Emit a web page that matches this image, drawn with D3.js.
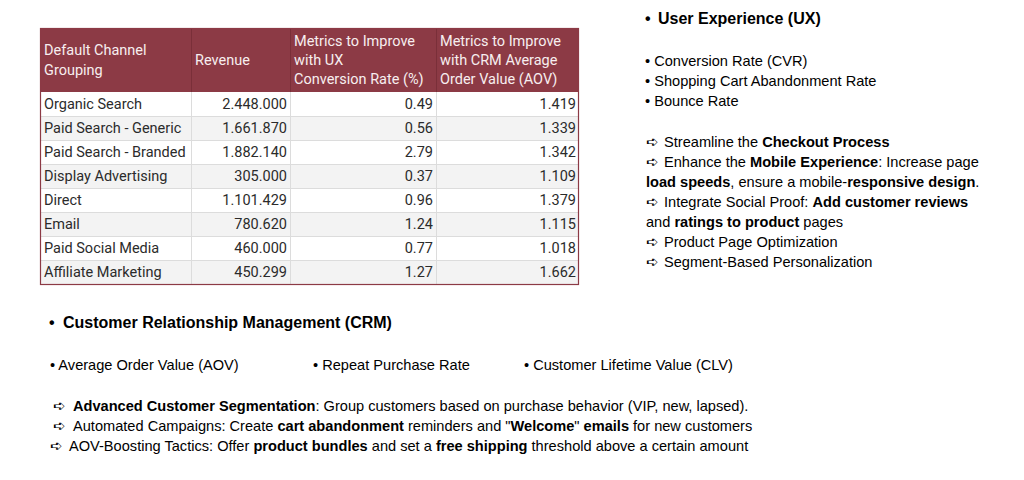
<!DOCTYPE html>
<html><head><meta charset="utf-8">
<script src="https://cdn.jsdelivr.net/npm/d3@7/dist/d3.min.js"></script>
<style>
html,body{margin:0;padding:0;background:#fff;}
svg{display:block;}
</style></head>
<body>
<svg id="c" width="1024" height="480"></svg>
<script>
// ---- data ----
const headers = [
  ["Default Channel", "Grouping"],
  ["Revenue"],
  ["Metrics to Improve", "with UX", "Conversion Rate (%)"],
  ["Metrics to Improve", "with CRM Average", "Order Value (AOV)"]
];
const channels = ["Organic Search","Paid Search - Generic","Paid Search - Branded","Display Advertising","Direct","Email","Paid Social Media","Affiliate Marketing"];
const revenue = [2448000, 1661870, 1882140, 305000, 1101429, 780620, 460000, 450299];
const cvr = [0.49, 0.56, 2.79, 0.37, 0.96, 1.24, 0.77, 1.27];
const aov = [1.419, 1.339, 1.342, 1.109, 1.379, 1.115, 1.018, 1.662];

const uxTitle = "User Experience (UX)";
const uxMetrics = ["Conversion Rate (CVR)", "Shopping Cart Abandonment Rate", "Bounce Rate"];
// segments: [text, bold]; arrow flag marks a new bullet line
const uxActions = [
  {arrow:true, segs:[["Streamline the ",0],["Checkout Process",1]]},
  {arrow:true, segs:[["Enhance the ",0],["Mobile Experience",1],[": Increase page",0]]},
  {arrow:false, segs:[["load speeds",1],[", ensure a mobile-",0],["responsive design",1],[".",0]]},
  {arrow:true, segs:[["Integrate Social Proof: ",0],["Add customer reviews",1]]},
  {arrow:false, segs:[["and ",0],["ratings to product",1],[" pages",0]]},
  {arrow:true, segs:[["Product Page Optimization",0]]},
  {arrow:true, segs:[["Segment-Based Personalization",0]]}
];
const crmTitle = "Customer Relationship Management (CRM)";
const crmMetrics = ["Average Order Value (AOV)", "Repeat Purchase Rate", "Customer Lifetime Value (CLV)"];
const crmActions = [
  [["Advanced Customer Segmentation",1],[": Group customers based on purchase behavior (VIP, new, lapsed).",0]],
  [["Automated Campaigns: Create ",0],["cart abandonment",1],[" reminders and \"",0],["Welcome",1],["\" ",0],["emails",1],[" for new customers",0]],
  [["AOV-Boosting Tactics: Offer ",0],["product bundles",1],[" and set a ",0],["free shipping",1],[" threshold above a certain amount",0]]
];

// ---- layout ----
const svg = d3.select("#c");
const ARROW = "\u27AA";
const tableFont = "Roboto, 'Noto Sans', sans-serif";
const textFont = "'Liberation Sans', Arial, sans-serif";
const TS = 14.5, BS = 14.6, HS = 16;

const colEdges = [40, 191, 290, 436, 579];
const tTop = 28, hdrBottom = 92, tBottom = 284;

const y = d3.scaleBand().domain(d3.range(channels.length)).range([hdrBottom, tBottom]);

const loc = d3.formatLocale({decimal:",", thousands:".", grouping:[3], currency:["",""]});
const fmtRev = loc.format(",d");
const fmt2 = d3.format(".2f");
const fmt3 = d3.format(".3f");

const tbl = svg.append("g");
tbl.append("rect").attr("x", colEdges[0]).attr("y", tTop)
  .attr("width", colEdges[4]-colEdges[0]).attr("height", hdrBottom-tTop)
  .attr("fill", "#8c3a45");
tbl.selectAll("rect.row").data(channels).join("rect").attr("class","row")
  .attr("x", colEdges[0]).attr("y", (d,i)=>y(i))
  .attr("width", colEdges[4]-colEdges[0]).attr("height", y.bandwidth())
  .attr("fill", (d,i)=> i%2 ? "#f3f3f3" : "#ffffff");
tbl.selectAll("line.h").data(d3.range(1, channels.length)).join("line").attr("class","h")
  .attr("x1", colEdges[0]).attr("x2", colEdges[4])
  .attr("y1", i=>y(i)+0.5).attr("y2", i=>y(i)+0.5)
  .attr("stroke", "#dcdcdc");
tbl.selectAll("line.v").data(colEdges.slice(1,4)).join("line").attr("class","v")
  .attr("x1", d=>d+0.5).attr("x2", d=>d+0.5).attr("y1", hdrBottom).attr("y2", tBottom)
  .attr("stroke", "#dcdcdc");
tbl.selectAll("line.vh").data(colEdges.slice(1,4)).join("line").attr("class","vh")
  .attr("x1", d=>d+0.5).attr("x2", d=>d+0.5).attr("y1", tTop).attr("y2", hdrBottom)
  .attr("stroke", "#7a2f39");
tbl.append("rect").attr("x", colEdges[0]+0.5).attr("y", tTop+0.5)
  .attr("width", colEdges[4]-colEdges[0]-1).attr("height", tBottom-tTop)
  .attr("fill", "none").attr("stroke", "#8c3a45").attr("stroke-width", 1.2);

const hdrMid = (tTop+hdrBottom)/2;
headers.forEach((lines, ci) => {
  const lh = lines.length === 3 ? 19 : 20;
  const t = tbl.append("text").attr("font-family", tableFont).attr("font-size", TS)
    .attr("fill", "#f7eeef");
  lines.forEach((ln, k) => {
    t.append("tspan").attr("x", colEdges[ci]+4)
      .attr("y", hdrMid + (k - (lines.length-1)/2)*lh + 5).text(ln);
  });
});

const cols = [
  {vals: channels, f: d=>d, anchor:"start"},
  {vals: revenue, f: fmtRev, anchor:"end"},
  {vals: cvr, f: fmt2, anchor:"end"},
  {vals: aov, f: fmt3, anchor:"end"}
];
cols.forEach((c, ci) => {
  tbl.selectAll("text.c"+ci).data(c.vals).join("text").attr("class","c"+ci)
    .attr("x", c.anchor==="start" ? colEdges[ci]+4 : colEdges[ci+1]-3)
    .attr("y", (d,i)=>y(i)+y.bandwidth()/2+5)
    .attr("text-anchor", c.anchor)
    .attr("font-family", tableFont).attr("font-size", TS).attr("fill", "#2b2b2b")
    .text(c.f);
});

function rich(g, x, yy, segs) {
  const t = g.append("text").attr("x", x).attr("y", yy)
    .attr("font-family", textFont).attr("font-size", BS).attr("fill", "#000");
  segs.forEach(s => t.append("tspan").attr("font-weight", s[1] ? "bold" : "normal").text(s[0]));
  return t;
}
function arrow(g, x, yy) {
  g.append("text").attr("x", x).attr("y", yy).attr("font-family", "'DejaVu Sans', sans-serif")
    .attr("font-size", 15).attr("fill", "#000").text(ARROW);
}

// ---- UX panel ----
const ux = svg.append("g");
ux.append("text").attr("x", 645).attr("y", 24).attr("font-family", textFont)
  .attr("font-size", HS).attr("font-weight","bold").text("\u2022");
ux.append("text").attr("x", 658).attr("y", 24).attr("font-family", textFont)
  .attr("font-size", HS).attr("font-weight","bold").text(uxTitle);
const uxM = d3.scalePoint().domain(d3.range(uxMetrics.length)).range([66, 106]);
ux.selectAll("text.m").data(uxMetrics).join("text").attr("class","m")
  .attr("x", 645).attr("y", (d,i)=>uxM(i)).attr("font-family", textFont).attr("font-size", BS)
  .text(d => "\u2022 " + d);
const uxA = d3.scalePoint().domain(d3.range(uxActions.length)).range([147, 267]);
uxActions.forEach((a, i) => {
  if (a.arrow) { arrow(ux, 646, uxA(i)); rich(ux, 664, uxA(i), a.segs); }
  else rich(ux, 646, uxA(i), a.segs);
});

// ---- CRM panel ----
const crm = svg.append("g");
crm.append("text").attr("x", 49).attr("y", 328).attr("font-family", textFont)
  .attr("font-size", HS).attr("font-weight","bold").text("\u2022");
crm.append("text").attr("x", 63).attr("y", 328).attr("font-family", textFont)
  .attr("font-size", HS).attr("font-weight","bold").text(crmTitle);
const crmX = [50, 313, 524];
crm.selectAll("text.m").data(crmMetrics).join("text").attr("class","m")
  .attr("x", (d,i)=>crmX[i]).attr("y", 370).attr("font-family", textFont).attr("font-size", BS)
  .text(d => "\u2022 " + d);
const crmA = d3.scalePoint().domain(d3.range(crmActions.length)).range([411, 451]);
const arrowX = [53, 53, 50], textX = [73, 73, 69];
crmActions.forEach((segs, i) => {
  arrow(crm, arrowX[i], crmA(i));
  rich(crm, textX[i], crmA(i), segs);
});
</script>
</body></html>
